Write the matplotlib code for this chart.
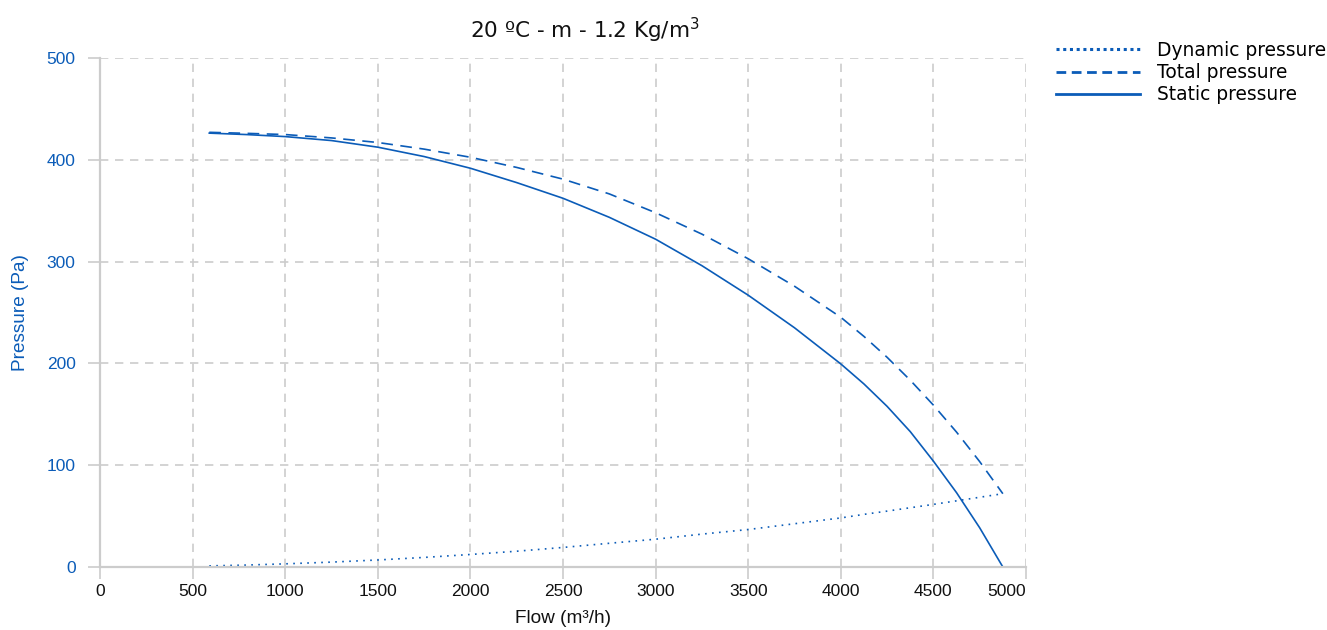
import matplotlib
matplotlib.use('Agg')
import matplotlib.pyplot as plt
from matplotlib.lines import Line2D


# Fan curve readings (flow in m3/h, pressure in Pa)
flow = [590, 790, 1000, 1250, 1500, 1750, 2000, 2250, 2500, 2750,
        3000, 3250, 3500, 3750, 4000, 4125, 4250, 4375, 4500, 4625, 4750, 4875]
static_pressure = [426.2, 424.8, 422.8, 418.9, 412.4, 403.2, 391.7, 377.6, 362.2, 343.5,
                   322, 296, 267, 235, 199.5, 179.8, 157.8, 133, 104, 73, 38.5, 0]
total_pressure = [427, 426, 424.8, 421.5, 417, 410.5, 402.5, 392.5, 381, 366.5,
                  348, 327, 302.8, 275.8, 245.3, 226.5, 206, 183.5, 159, 132.5, 103.5, 72]
dynamic_pressure = [1.1, 1.9, 3.1, 4.8, 6.9, 9.4, 12.3, 15.5, 19.2, 23.3,
                    27.3, 32.3, 36.8, 42.5, 48.2, 51.7, 54.9, 58.2, 61.5, 65, 68.5, 72]

x_ticks = [0, 500, 1000, 1500, 2000, 2500, 3000, 3500, 4000, 4500, 5000]
y_ticks = [0, 100, 200, 300, 400, 500]

title = r'20 ºC - m - 1.2 Kg/m$^3$'
x_label = 'Flow (m³/h)'
y_label = 'Pressure (Pa)'
legend_labels = ['Dynamic pressure', 'Total pressure', 'Static pressure']

blue = '#0b5cb8'
grey = '#cccccc'

W, H = 1327, 630
fig = plt.figure(figsize=(W / 100, H / 100), dpi=100)
ax = fig.add_axes([100 / W, 1 - 567 / H, (1026 - 100) / W, (567 - 58) / H])

ax.plot(flow, dynamic_pressure, color=blue, lw=1.2, linestyle=(0, (1, 3.2)))
ax.plot(flow, total_pressure, color=blue, lw=1.2, linestyle=(0, (7, 4.5)))
ax.plot(flow, static_pressure, color=blue, lw=1.2)

ax.set_xlim(0, 5000)
ax.set_ylim(0, 500)
ax.set_xticks(x_ticks)
ax.set_yticks(y_ticks)
ax.grid(True, color=grey, linestyle=(0, (5, 4)), lw=1.2)
ax.set_axisbelow(True)

for s in ['top', 'right']:
    ax.spines[s].set_visible(False)
for s in ['left', 'bottom']:
    ax.spines[s].set_color(grey)
    ax.spines[s].set_linewidth(1.6)

tick_font = 'Liberation Sans'
ax.tick_params(axis='both', length=8.5, width=1.2, color=grey)
ax.tick_params(axis='x', labelsize=12.5, labelcolor='#111111', pad=4)
ax.tick_params(axis='y', labelsize=12.5, labelcolor=blue, pad=9)
for lab in ax.get_xticklabels() + ax.get_yticklabels():
    lab.set_fontfamily(tick_font)
ax.get_xticklabels()[-1].set_horizontalalignment('right')

ax.set_xlabel(x_label, fontsize=13.7, fontfamily=tick_font, color='#111111', labelpad=8)
ax.set_ylabel(y_label, fontsize=13.7, fontfamily=tick_font, color=blue, labelpad=13)

fig.text(585 / W, 1 - 30 / H, title, ha='center', va='center', fontsize=15.5,
         fontfamily='DejaVu Sans', color='#111111')

handles = [
    Line2D([], [], color=blue, lw=2.2, linestyle=(0, (1, 1.2))),
    Line2D([], [], color=blue, lw=2.0, linestyle=(0, (3.5, 2))),
    Line2D([], [], color=blue, lw=2.0),
]
fig.legend(handles, legend_labels, loc='upper left', bbox_to_anchor=(1056 / W, 1 - 41 / H),
           frameon=False, borderpad=0, borderaxespad=0, handlelength=4.5,
           handletextpad=0.95, labelspacing=0.17, prop={'family': 'DejaVu Sans', 'size': 13.4})

fig.savefig('out.png', dpi=100)
